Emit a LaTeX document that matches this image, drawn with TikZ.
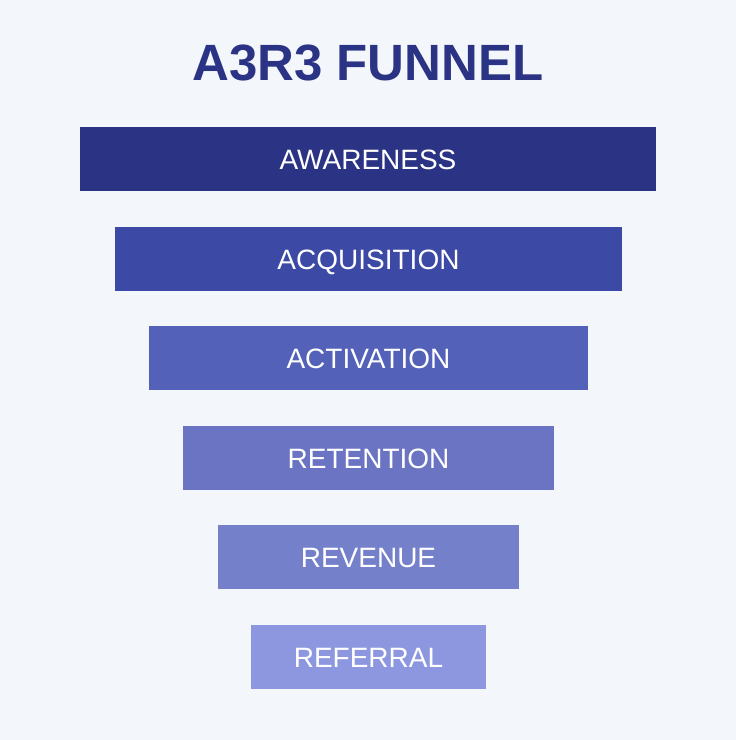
\documentclass[tikz,border=0pt]{standalone}
\usepackage{fontspec}
\setmainfont{Liberation Sans}
\definecolor{bg}{HTML}{F3F6FB}
\definecolor{navy}{HTML}{2B3484}
\definecolor{c1}{HTML}{2B3484}
\definecolor{c2}{HTML}{3C4AA6}
\definecolor{c3}{HTML}{5461B8}
\definecolor{c4}{HTML}{6A74C2}
\definecolor{c5}{HTML}{7580CA}
\definecolor{c6}{HTML}{8D97E0}
\tikzset{
  bar/.style={rectangle, inner sep=0pt, minimum height=64pt, text=white,
    text height=20pt, text depth=0pt,
    font=\fontsize{28}{30}\selectfont},
}
\begin{document}
\begin{tikzpicture}[x=1pt,y=-1pt]
\fill[bg] (0,0) rectangle (736,740);
\useasboundingbox (0,0) rectangle (736,740);
\node[text=navy, font=\fontsize{51}{56}\selectfont\bfseries, text height=37pt, text depth=0pt, inner sep=0pt] (title) at (368,62) {A3R3 FUNNEL};
\node[bar, fill=c1, minimum width=576pt] (awareness) at (368,159) {AWARENESS};
\node[bar, fill=c2, minimum width=507pt] (acquisition) at (368.5,259) {ACQUISITION};
\node[bar, fill=c3, minimum width=439pt] (activation) at (368.5,358) {ACTIVATION};
\node[bar, fill=c4, minimum width=371pt] (retention) at (368.5,458) {RETENTION};
\node[bar, fill=c5, minimum width=301pt] (revenue) at (368.5,557) {REVENUE};
\node[bar, fill=c6, minimum width=235pt] (referral) at (368.5,657) {REFERRAL};
\end{tikzpicture}
\end{document}
